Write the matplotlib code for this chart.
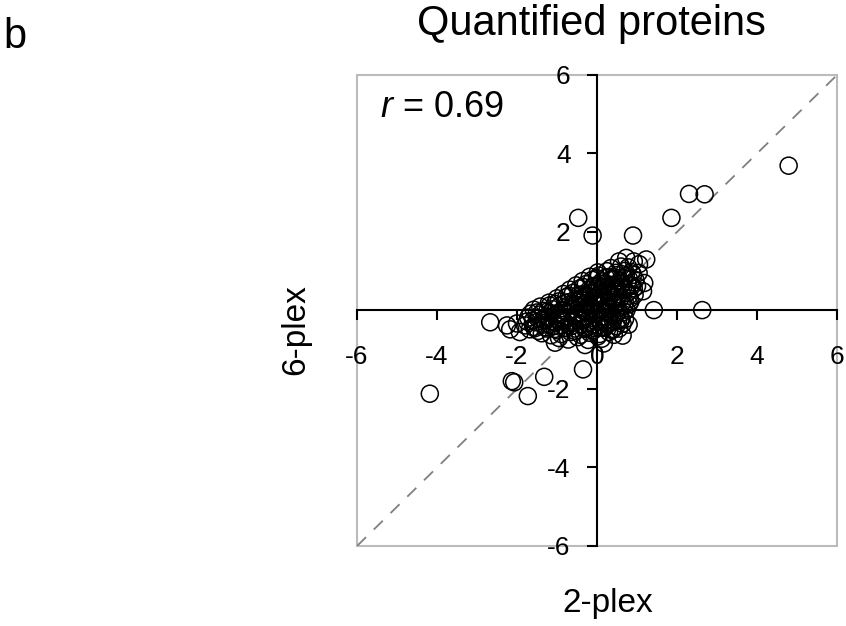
import matplotlib
matplotlib.use("Agg")
import matplotlib.pyplot as plt
from matplotlib.patches import Rectangle

plt.rcParams['font.family'] = ['Liberation Sans', 'DejaVu Sans']
plt.rcParams['mathtext.fontset'] = 'custom'
plt.rcParams['mathtext.rm'] = 'Liberation Sans'
plt.rcParams['mathtext.it'] = 'Liberation Sans:italic'

# log ratios, 2-plex (x) vs 6-plex (y)
# outliers
outlier_x = [4.79, 2.30, 2.69, 1.86, -0.47, -0.11, 0.90, 1.42, 2.63, -2.67,
             -4.18, -2.13, -2.07, -1.73, -1.32, -0.35]
outlier_y = [3.69, 2.97, 2.96, 2.36, 2.36, 1.91, 1.91, 0.01, 0.01, -0.30,
             -2.12, -1.80, -1.83, -2.18, -1.69, -1.50]

# dense cluster around the origin, row by row
cluster_x = [
    -0.95, -0.72, -0.48, -0.22, 0.02, 0.12,
    -1.38, -1.15, -0.9, -0.66, -0.41, -0.18, 0.06, 0.3, 0.42,
    -1.68, -1.47, -1.24, -1.0, -0.78, -0.55, -0.3, -0.08, 0.16, 0.38, 0.55,
    -1.8, -1.58, -1.35, -1.12, -0.88, -0.65, -0.42, -0.2, 0.04, 0.26, 0.48, 0.64,
    -1.75, -1.52, -1.3, -1.06, -0.83, -0.6, -0.36, -0.14, 0.1, 0.32, 0.52, 0.7,
    -1.72, -1.48, -1.25, -1.02, -0.78, -0.55, -0.32, -0.08, 0.15, 0.38, 0.6,
    -1.66, -1.42, -1.18, -0.95, -0.72, -0.48, -0.25, -0.02, 0.22, 0.45, 0.68,
    -1.58, -1.34, -1.1, -0.86, -0.62, -0.38, -0.15, 0.08, 0.3, 0.52, 0.74,
    -1.42, -1.18, -0.94, -0.7, -0.46, -0.22, 0.0, 0.24, 0.46, 0.68, 0.8,
    -1.2, -0.96, -0.72, -0.48, -0.25, -0.02, 0.2, 0.42, 0.64, 0.84,
    -1.0, -0.77, -0.53, -0.3, -0.06, 0.16, 0.38, 0.6, 0.82,
    -0.84, -0.6, -0.37, -0.14, 0.1, 0.32, 0.54, 0.76, 0.94,
    -0.68, -0.44, -0.2, 0.03, 0.26, 0.48, 0.7, 0.92,
    -0.52, -0.28, -0.05, 0.18, 0.4, 0.62, 0.84, 1.0,
    -0.36, -0.12, 0.12, 0.35, 0.58, 0.8, 0.96,
    -0.18, 0.05, 0.28, 0.5, 0.72, 0.9,
    0.02, 0.25, 0.48, 0.7, 0.86,
    0.35, 0.6, 0.78,
    -0.5, -0.3, -0.1, 0.1, 0.3, -0.4, -0.2, 0.0, 0.2, 0.4, -0.6, -0.9, -1.2, 0.5, 0.15, -0.05,
    1.04, 1.18, 1.15, 1.23, 0.92, 0.73, 0.79, 0.64, 0.17, -2.17, -2.25, -2.0, -1.93,
    -1.05, -0.3, 0.55, 1.05,
]
cluster_y = [
    -0.70, -0.74, -0.68, -0.75, -0.66, -0.72,
    -0.58, -0.63, -0.6, -0.55, -0.62, -0.57, -0.6, -0.55, -0.62,
    -0.48, -0.52, -0.46, -0.5, -0.45, -0.52, -0.47, -0.5, -0.44, -0.5, -0.46,
    -0.38, -0.42, -0.36, -0.41, -0.37, -0.4, -0.35, -0.41, -0.38, -0.36, -0.4, -0.34,
    -0.28, -0.3, -0.26, -0.31, -0.27, -0.3, -0.25, -0.29, -0.27, -0.31, -0.26, -0.22,
    -0.18, -0.2, -0.16, -0.21, -0.17, -0.19, -0.15, -0.2, -0.17, -0.14, -0.19,
    -0.08, -0.1, -0.06, -0.11, -0.07, -0.09, -0.05, -0.1, -0.06, -0.08, -0.04,
    0.02, -0.01, 0.03, 0.0, 0.04, 0.01, 0.05, 0.0, 0.03, 0.06, 0.02,
    0.1, 0.13, 0.11, 0.14, 0.1, 0.13, 0.15, 0.11, 0.14, 0.12, 0.16,
    0.2, 0.23, 0.21, 0.24, 0.2, 0.25, 0.22, 0.26, 0.21, 0.24,
    0.31, 0.34, 0.3, 0.35, 0.32, 0.36, 0.31, 0.34, 0.3,
    0.42, 0.45, 0.41, 0.46, 0.43, 0.47, 0.42, 0.45, 0.4,
    0.53, 0.56, 0.52, 0.57, 0.54, 0.58, 0.53, 0.56,
    0.64, 0.67, 0.63, 0.68, 0.65, 0.69, 0.64, 0.62,
    0.75, 0.78, 0.74, 0.79, 0.76, 0.8, 0.78,
    0.86, 0.89, 0.85, 0.9, 0.87, 0.91,
    0.97, 1.0, 0.96, 1.01, 0.98,
    1.08, 1.12, 1.1,
    -0.1, 0.05, 0.2, 0.35, 0.5, 0.3, 0.45, 0.6, 0.7, 0.8, -0.3, -0.2, -0.35, 0.6, -0.15, 0.0,
    0.96, 0.70, 0.49, 1.30, 1.25, 1.34, -0.36, -0.64, -0.84, -0.48, -0.38, -0.33, -0.55,
    -0.82, -0.88, 1.25, 1.18,
]

# extra points filling the black core
core_x = [
    -1.55, -1.3, -1.05, -0.8, -0.55, -0.3, -0.05, 0.2, 0.4,
    -1.6, -1.35, -1.1, -0.85, -0.6, -0.35, -0.1, 0.15, 0.4, 0.6,
    -1.5, -1.25, -1.0, -0.75, -0.5, -0.25, 0.0, 0.25, 0.5,
    -1.05, -0.8, -0.55, -0.3, -0.05, 0.2, 0.45, 0.7,
    -0.7, -0.45, -0.2, 0.05, 0.3, 0.55, 0.8,
    -0.35, -0.1, 0.15, 0.4, 0.65, 0.88,
    0.0, 0.22, 0.45, 0.68,
]
core_y = [
    -0.45, -0.43, -0.47, -0.44, -0.46, -0.42, -0.45, -0.43, -0.47,
    -0.25, -0.23, -0.27, -0.24, -0.26, -0.22, -0.25, -0.23, -0.27, -0.24,
    -0.05, -0.03, -0.07, -0.04, -0.06, -0.02, -0.05, -0.03, -0.07,
    0.17, 0.19, 0.15, 0.18, 0.16, 0.2, 0.17, 0.19,
    0.38, 0.4, 0.36, 0.39, 0.37, 0.41, 0.38,
    0.6, 0.62, 0.58, 0.61, 0.59, 0.63,
    0.82, 0.84, 0.8, 0.83,
]

ticks_x = [-6, -4, -2, 0, 2, 4, 6]
ticks_y = [-6, -4, -2, 2, 4, 6]

fig = plt.figure(figsize=(8.46, 6.26), dpi=100)
ax = fig.add_axes([0.422, 0.1278, 0.5674, 0.7524])

ax.plot([-6, 6], [-6, 6], color='#808080', lw=1.3, ls=(0, (7, 6)), zorder=2)
ax.scatter(outlier_x + cluster_x + core_x, outlier_y + cluster_y + core_y, s=150,
           facecolors='none', edgecolors='black', linewidths=1.1, zorder=3)

ax.set_xlim(-6, 6)
ax.set_ylim(-6, 6)

# axes cross through the origin, grey frame around
for side in ['top', 'right']:
    ax.spines[side].set_visible(False)
for side in ['left', 'bottom']:
    ax.spines[side].set_position(('data', 0))
    ax.spines[side].set_color('black')
    ax.spines[side].set_linewidth(1.5)
ax.add_patch(Rectangle((0, 0), 1, 1, transform=ax.transAxes, fill=False,
                       ec='#bbbbbb', lw=1.5, clip_on=False, zorder=0.5))

ax.set_xticks(ticks_x)
ax.set_yticks(ticks_y)
ax.set_xticklabels([str(t) for t in ticks_x])
ax.set_yticklabels([str(t) for t in ticks_y])
ax.tick_params(axis='x', direction='out', length=7, width=1.5, pad=18, labelsize=19)
ax.tick_params(axis='y', direction='out', length=7, width=1.5, pad=12, labelsize=19)

fig.text(591 / 846, 1 - 35 / 626, 'Quantified proteins', ha='center', va='baseline', fontsize=30)
fig.text(3 / 846, 1 - 48 / 626, 'b', ha='left', va='baseline', fontsize=30)
fig.text(608 / 846, 1 - 612 / 626, '2-plex', ha='center', va='baseline', fontsize=24)
fig.text(296 / 846, 1 - 330 / 626, '6-plex', ha='center', va='center', rotation=90, fontsize=24)
fig.text(380 / 846, 1 - 117 / 626, r'$r$ = 0.69', ha='left', va='baseline', fontsize=26)

fig.savefig('out.png', dpi=100)
